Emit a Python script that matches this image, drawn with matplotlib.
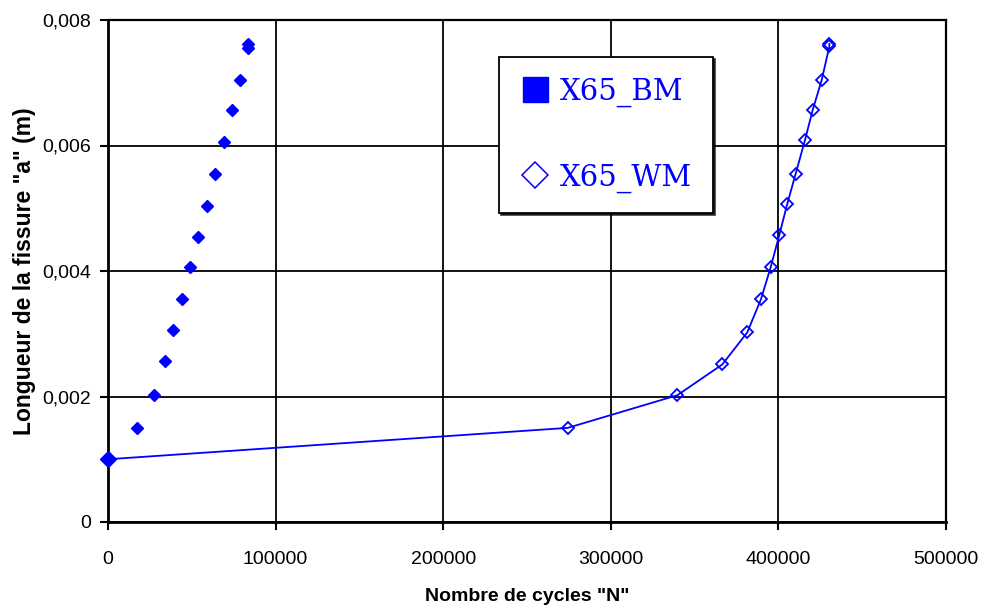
import matplotlib
matplotlib.use("Agg")

import matplotlib.pyplot as plt
import matplotlib.ticker as mticker
from matplotlib.lines import Line2D

BLUE = "#0000ff"

# ── Data ───────────────────────────────────────────────────────────────────
BM_N = [0, 17300, 27400, 34000, 38800, 44100, 48900, 53700, 59000,
        63800, 69200, 74000, 78700, 83500, 83500]
BM_A = [0.00100, 0.00150, 0.00202, 0.00257, 0.00306, 0.00355, 0.00406,
        0.00454, 0.00504, 0.00555, 0.00605, 0.00657, 0.00705, 0.00755, 0.00761]

WM_N = [0, 274300, 339700, 366500, 381400, 389600, 395400, 400500, 405300,
        410300, 415900, 420500, 425800, 430400, 430400]
WM_A = [0.00100, 0.00150, 0.00202, 0.00251, 0.00302, 0.00355, 0.00406,
        0.00457, 0.00507, 0.00555, 0.00609, 0.00657, 0.00704, 0.00758, 0.00762]

X_TICKS = [0, 100000, 200000, 300000, 400000, 500000]
Y_TICKS = [0, 0.002, 0.004, 0.006, 0.008]

plt.rcParams["font.family"] = ["Liberation Sans", "DejaVu Sans"]

fig = plt.figure(figsize=(9.84, 6.15), dpi=100)
fig.patch.set_facecolor("white")
ax = fig.add_axes([108 / 984, 1 - 522 / 615, 838 / 984, 502 / 615])

# Grid
ax.grid(True, color="black", linewidth=1.3, zorder=0)
ax.set_axisbelow(True)
for side in ["top", "right"]:
    ax.spines[side].set_linewidth(1.6)
for side in ["left", "bottom"]:
    ax.spines[side].set_linewidth(2.0)

# Series
ax.plot(WM_N, WM_A, color=BLUE, linewidth=1.3, marker="D", markersize=6,
        markerfacecolor="none", markeredgecolor=BLUE, markeredgewidth=1.3,
        zorder=3, clip_on=False)
ax.plot(BM_N, BM_A, linestyle="none", marker="D", markersize=6,
        color=BLUE, zorder=4, clip_on=False)
ax.plot(BM_N[:1], BM_A[:1], linestyle="none", marker="D", markersize=8,
        color=BLUE, zorder=5, clip_on=False)

# Axes
ax.set_xlim(0, 500000)
ax.set_ylim(0, 0.008)
ax.set_xticks(X_TICKS)
ax.set_yticks(Y_TICKS)
ax.xaxis.set_major_formatter(mticker.FuncFormatter(lambda v, _: f"{v:.0f}"))
ax.yaxis.set_major_formatter(
    mticker.FuncFormatter(lambda v, _: "0" if v == 0 else f"{v:.3f}".replace(".", ",")))
ax.tick_params(direction="out", length=6, width=1.5, labelsize=14, colors="black")
ax.tick_params(axis="x", pad=15)
ax.tick_params(axis="y", pad=6)

ax.set_xlabel('Nombre de cycles "N"', fontsize=14, fontweight="bold", labelpad=14)
ax.set_ylabel('Longueur de la fissure "a" (m)', fontsize=16.5, fontweight="bold",
              labelpad=5)

# Legend
handles = [
    Line2D([], [], linestyle="none", marker="s", markersize=18, color=BLUE),
    Line2D([], [], linestyle="none", marker="D", markersize=13,
           markerfacecolor="none", markeredgecolor=BLUE, markeredgewidth=1.1),
]
leg = ax.legend(handles, ["X65_BM", "X65_WM"], loc="upper left",
                bbox_to_anchor=((499 - 108) / 838, (522 - 57) / 502),
                borderaxespad=0,
                prop={"family": "DejaVu Serif", "size": 21},
                labelcolor=BLUE, frameon=True, fancybox=False,
                shadow={"ox": 1.5, "oy": -1.5, "color": "black", "alpha": 0.7},
                edgecolor="black", framealpha=1, labelspacing=1.95,
                handletextpad=0.3, handlelength=1.1, borderpad=0.7)
leg.get_frame().set_linewidth(1.3)

fig.savefig("out.png", dpi=100, facecolor="white")
